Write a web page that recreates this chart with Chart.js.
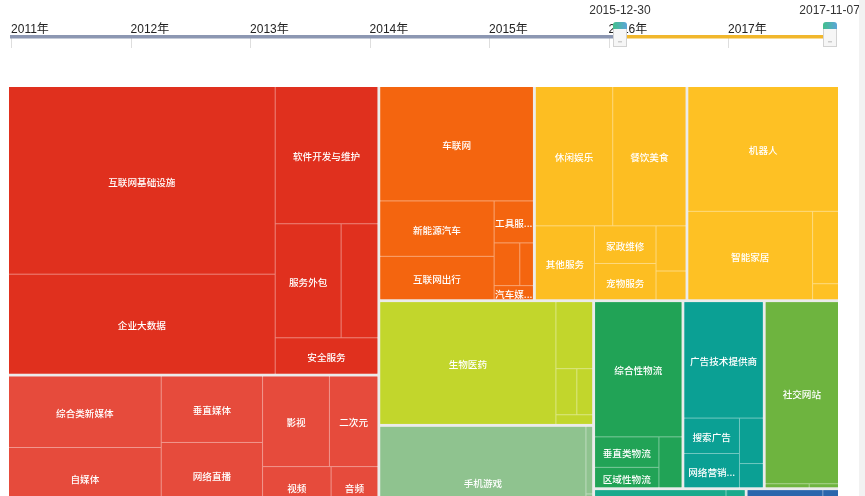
<!DOCTYPE html>
<html>
<head>
<meta charset="utf-8">
<title>行业分布</title>
<script src="https://cdn.jsdelivr.net/npm/chart.js@4.4.1/dist/chart.umd.min.js"></script>
<style>
  html, body { margin: 0; padding: 0; background: #fff; overflow: hidden; }
  #wrap { position: relative; width: 865px; height: 640px; }
  #edge { position: fixed; top: 0; right: 0; width: 6px; height: 100%; background: #f2f2f2; }
</style>
</head>
<body>
<div id="wrap"><canvas id="treemap"></canvas></div>
<div id="edge"></div>
<script>
// timeline
const years = [2011, 2012, 2013, 2014, 2015, 2016, 2017];
const yearLabels = ['2011年', '2012年', '2013年', '2014年', '2015年', '2016年', '2017年'];
const rangeStart = '2015-12-30';
const rangeEnd = '2017-11-07';

// treemap: one entry per top level group
const groupNames = ['企业服务', '文化娱乐', '金融', '汽车交通', '本地生活', '硬件', '医疗健康', '游戏',
  '教育', '物流', '广告营销', '社交网络', '电子商务', '旅游', '房产家居', '体育运动', '农业'];

const leafNames = [
  ['互联网基础设施', '企业大数据', '软件开发与维护', '服务外包', '企业办公协作', '安全服务'],
  ['综合类新媒体', '自媒体', '垂直媒体', '网络直播', '影视', '二次元', '视频', '音频'],
  ['互联网金融', '支付', '区块链', '保险科技'],
  ['车联网', '新能源汽车', '互联网出行', '工具服务', '汽车后市场', '二手车交易', '汽车媒体'],
  ['休闲娱乐', '餐饮美食', '其他服务', '家政维修', '宠物服务', '社区服务', '婚庆摄影'],
  ['机器人', '智能家居', '可穿戴设备', '无人机'],
  ['生物医药', '医疗器械', '健康管理', '医药电商', '寻医诊疗'],
  ['手机游戏', '网页游戏', '游戏直播'],
  ['在线教育', '职业培训', '早教'],
  ['综合性物流', '垂直类物流', '区域性物流', '跨境物流'],
  ['广告技术提供商', '搜索广告', '网络营销推广', '移动广告', '户外广告'],
  ['社交网站', '社区论坛', '婚恋交友'],
  ['综合电商', '跨境电商', '社交电商'],
  ['在线旅游', '酒店住宿'],
  ['房产服务', '家装', '租房'],
  ['健身', '体育赛事'],
  ['农业电商']
];

const leafValues = [
  [5022, 2673, 1413, 754, 420, 374],
  [1103, 932, 680, 670, 612, 443, 286, 195],
  [2200, 1100, 700, 403],
  [1780, 642, 502, 167, 111, 59, 56],
  [1092, 1034, 442, 235, 226, 137, 87],
  [1905, 1116, 190, 42],
  [2196, 250, 98, 74, 36],
  [2342, 46, 30],
  [1100, 500, 305],
  [1209, 201, 134, 120],
  [948, 202, 195, 111, 59],
  [1372, 18, 12],
  [960, 80, 60],
  [700, 313],
  [580, 70, 50],
  [200, 150],
  [243]
];

const groupColors = ['#e0301e', '#e64b3c', '#d9365e', '#f4650f', '#fdbe22', '#fec124', '#c2d62c',
  '#8fc38f', '#7b52ab', '#21a356', '#0ba094', '#6eb43f', '#1aaa8c', '#3a8fd0', '#2a66ac',
  '#5566aa', '#887799'];

const TM_W = 829, TM_H = 540;
const RATIO = 0.5 * (1 + Math.sqrt(5));
const TL_MIN = 2010.983, TL_MAX = 2017.92;

function toYear(s) {
  const d = new Date(s + 'T00:00:00Z');
  const y = d.getUTCFullYear();
  const a = Date.UTC(y, 0, 1), b = Date.UTC(y + 1, 0, 1);
  return y + (d.getTime() - a) / (b - a);
}

function tint(hex, k) {
  const n = parseInt(hex.slice(1), 16);
  const ch = [n >> 16, (n >> 8) & 255, n & 255].map(v => Math.round(v + (255 - v) * k));
  return `rgb(${ch[0]},${ch[1]},${ch[2]})`;
}

// squarified layout, same steps as echarts treemap
function worst(row, fixed) {
  let max = 0, min = Infinity;
  row.forEach(n => {
    if (n.area) {
      if (n.area < min) min = n.area;
      if (n.area > max) max = n.area;
    }
  });
  const sq = row.area * row.area;
  const f = fixed * fixed * RATIO;
  return sq ? Math.max(f * max / sq, sq / (f * min)) : Infinity;
}

function position(row, fixed, rect, half, flush) {
  const horiz = fixed === rect.width;
  const p0 = horiz ? 'x' : 'y', p1 = horiz ? 'y' : 'x';
  const s0 = horiz ? 'width' : 'height', s1 = horiz ? 'height' : 'width';
  let last = rect[p0];
  let other = fixed ? row.area / fixed : 0;
  if (flush || other > rect[s1]) other = rect[s1];
  row.forEach((n, i) => {
    const step = other ? n.area / other : 0;
    const len1 = Math.max(other - 2 * half, 0);
    const remain = rect[p0] + rect[s0] - last;
    const mod = (i === row.length - 1 || remain < step) ? remain : step;
    const len0 = Math.max(mod - 2 * half, 0);
    n.box = {};
    n.box[s1] = len1;
    n.box[s0] = len0;
    n.box[p1] = rect[p1] + Math.min(half, len1 / 2);
    n.box[p0] = last + Math.min(half, len0 / 2);
    last += mod;
  });
  rect[p1] += other;
  rect[s1] -= other;
}

function squarify(items, rect, half) {
  const total = items.reduce((s, d) => s + d.value, 0);
  const area = rect.width * rect.height;
  const list = items.slice().sort((a, b) => b.value - a.value);
  list.forEach(d => { d.area = d.value / total * area; });
  const r = Object.assign({}, rect);
  let fixed = Math.min(r.width, r.height);
  let best = Infinity;
  let row = [];
  row.area = 0;
  for (let i = 0; i < list.length;) {
    row.push(list[i]);
    row.area += list[i].area;
    const score = worst(row, fixed);
    if (score <= best) {
      i++;
      best = score;
    } else {
      row.area -= row.pop().area;
      position(row, fixed, r, half, false);
      fixed = Math.min(r.width, r.height);
      row = [];
      row.area = 0;
      best = Infinity;
    }
  }
  if (row.length) position(row, fixed, r, half, true);
  return list;
}

// truncate like echarts: keep the chars that fit beside the ellipsis
function fitLabel(c, text, w, h) {
  if (w < 37 || h < 9) return '';
  if (c.measureText(text).width <= w - 2) return text;
  const room = w - c.measureText('...').width;
  let n = 0;
  while (n < text.length && c.measureText(text.slice(0, n + 1)).width <= room) n++;
  return n ? text.slice(0, n) + '...' : '';
}

function drawTreemap(chart) {
  const c = chart.ctx;
  const xs = chart.scales.x, ys = chart.scales.y;
  const X = v => xs.getPixelForValue(v);
  const Y = v => ys.getPixelForValue(v);
  const fillBox = b => c.fillRect(X(b.x), Y(b.y), X(b.x + b.width) - X(b.x), Y(b.y + b.height) - Y(b.y));

  c.save();
  c.fillStyle = '#ebebeb';
  fillBox({ x: 0, y: 0, width: TM_W, height: TM_H });

  const groups = groupNames.map((name, i) => ({
    name, i, value: leafValues[i].reduce((s, v) => s + v, 0)
  }));
  squarify(groups, { x: -1.5, y: -1.5, width: TM_W + 3, height: TM_H + 3 }, 1.5);

  c.font = '500 9.6px "Noto Sans CJK SC", sans-serif';
  c.textAlign = 'center';
  c.textBaseline = 'middle';
  groups.forEach(g => {
    const b = g.box;
    const col = groupColors[g.i];
    c.fillStyle = tint(col, 0.42);
    fillBox(b);
    const leaves = leafNames[g.i].map((name, j) => ({ name, value: leafValues[g.i][j] }));
    squarify(leaves, { x: b.x - 0.5, y: b.y - 0.5, width: b.width + 1, height: b.height + 1 }, 0.5);
    leaves.forEach(l => {
      const lb = l.box;
      c.fillStyle = col;
      fillBox(lb);
      const x0 = X(lb.x), x1 = X(lb.x + lb.width);
      const y0 = Y(lb.y), y1 = Y(lb.y + lb.height);
      const txt = fitLabel(c, l.name, x1 - x0, y1 - y0);
      if (!txt) return;
      c.save();
      c.beginPath();
      c.rect(x0, y0, x1 - x0, y1 - y0);
      c.clip();
      c.fillStyle = '#fff';
      c.fillText(txt, (x0 + x1) / 2, (y0 + y1) / 2 + 1.5);
      c.restore();
    });
  });
  c.restore();
}

function drawHandle(c, x) {
  const w = 14, left = Math.round(x - w / 2);
  const g = c.createLinearGradient(left, 0, left + w, 0);
  g.addColorStop(0, '#42bf8c');
  g.addColorStop(1, '#5ca5d9');
  c.fillStyle = '#f6f6f6';
  c.fillRect(left, 28, w, 19);
  c.strokeStyle = '#d2d2d2';
  c.lineWidth = 1;
  c.strokeRect(left + 0.5, 28.5, w - 1, 18);
  c.fillStyle = g;
  c.beginPath();
  c.roundRect(left, 22, w, 7, [3, 3, 0, 0]);
  c.fill();
  c.fillStyle = '#cdcdcd';
  c.fillRect(left + 5, 41, 4, 1.5);
}

function drawTimeline(chart) {
  const c = chart.ctx;
  const tl = chart.scales.tl;
  const start = chart.chartArea.left + 1;
  const hs = tl.getPixelForValue(toYear(rangeStart)) + 12;
  const he = tl.getPixelForValue(toYear(rangeEnd));

  c.save();
  c.strokeStyle = '#dedede';
  c.lineWidth = 1;
  years.forEach(v => {
    const x = Math.round(tl.getPixelForValue(v)) + 0.5;
    c.beginPath();
    c.moveTo(x, 38);
    c.lineTo(x, 48);
    c.stroke();
  });
  c.fillStyle = '#8c97b2';
  c.fillRect(start, 35, hs - start, 3.5);
  c.fillStyle = '#f1b72c';
  c.fillRect(hs, 35, he - hs, 3.5);

  c.font = '12px Arial, "Liberation Sans", "Noto Sans CJK SC", sans-serif';
  c.fillStyle = '#222';
  c.textAlign = 'left';
  c.textBaseline = 'alphabetic';
  yearLabels.forEach((t, k) => c.fillText(t, tl.getPixelForValue(years[k]), 33));

  drawHandle(c, hs);
  drawHandle(c, he);
  c.fillStyle = '#333';
  c.textAlign = 'center';
  c.fillText(rangeStart, hs, 14);
  c.fillText(rangeEnd, he, 14);
  c.restore();
}

const treemapPlugin = {
  id: 'treemapPlugin',
  afterDraw(chart) {
    drawTreemap(chart);
    drawTimeline(chart);
  }
};

const ctx = document.querySelector('#treemap');
const myChart = new Chart(ctx, {
  type: 'scatter',
  data: { datasets: [] },
  options: {
    responsive: true,
    maintainAspectRatio: false,
    animation: false,
    layout: { padding: { left: 9, right: 27, top: 87, bottom: 13 } },
    plugins: { legend: { display: false }, tooltip: { enabled: false } },
    scales: {
      x: { type: 'linear', min: 0, max: TM_W, display: false },
      y: { type: 'linear', min: 0, max: TM_H, reverse: true, display: false },
      tl: { type: 'linear', axis: 'x', position: 'bottom', min: TL_MIN, max: TL_MAX, display: false }
    }
  },
  plugins: [treemapPlugin]
});
</script>
</body>
</html>
